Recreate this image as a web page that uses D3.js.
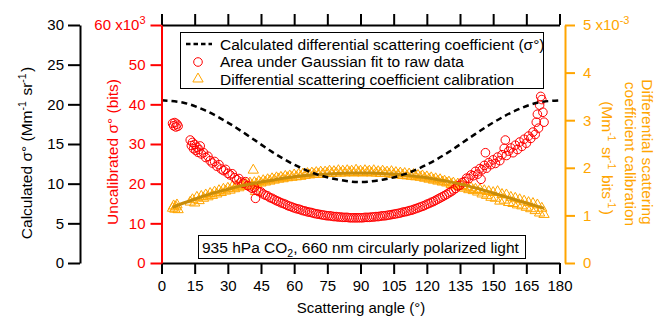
<!DOCTYPE html>
<html>
<head>
<meta charset="utf-8">
<script src="https://cdnjs.cloudflare.com/ajax/libs/d3/7.8.5/d3.min.js"></script>
<style>
    body { margin: 0; background: #fff; }
    svg text { font-family: "Liberation Sans", Arial, sans-serif; }
</style>
</head>
<body>
<svg id="chart" width="658" height="320"></svg>
<script>
// tick values
var angleTicks = [0, 15, 30, 45, 60, 75, 90, 105, 120, 135, 150, 165, 180];
var sigmaTicks = [0, 5, 10, 15, 20, 25, 30];
var bitsTicks = [0, 10, 20, 30, 40, 50, 60];
var calibTicks = [0, 1, 2, 3, 4, 5];

// calculated sigma (Mm-1 sr-1) vs angle
var calcSigma = [
    [0, 20.5], [10, 20.2], [20, 19.2], [30, 17.7], [40, 15.9], [50, 14.0], [60, 12.4],
    [70, 11.2], [80, 10.5], [90, 10.2], [100, 10.5], [110, 11.2], [120, 12.4], [130, 14.0],
    [140, 15.9], [150, 17.7], [160, 19.2], [170, 20.2], [180, 20.5]
];

// area under gaussian fit (x10^3 bits)
var rawArea = [
    [5, 35.2], [5.5, 34.6], [6, 35.4], [6.5, 34.3], [7, 35.0], [7.5, 34.5],
    [13, 31.0], [13.5, 29.6], [14, 30.4], [14.5, 28.8], [15, 29.9], [15.5, 28.4], [16, 29.2],
    [16.5, 27.9], [17, 28.6], [17.5, 29.5], [18, 27.5], [19, 27.8], [20, 26.6], [21, 26.9],
    [22, 25.8], [23, 25.2], [24, 25.6], [25, 24.4], [26, 24.8], [27, 23.7], [28, 23.3],
    [29, 23.6], [30, 22.6], [31, 22.2], [32, 22.5], [33, 21.5], [34, 21.0], [35, 21.3],
    [36, 20.4], [37, 20.1], [38, 20.5], [39, 19.5], [40, 19.2], [41, 18.8], [42, 19.1],
    [42.5, 16.3], [43, 18.3], [44, 18.0], [45, 17.9], [46, 17.4], [47, 17.1], [48, 16.9],
    [49, 16.5], [50, 16.3], [51, 16.0], [52, 15.7], [53, 15.5], [54, 15.2], [55, 15.0],
    [56, 14.8], [57, 14.5], [58, 14.3], [59, 14.1], [60, 13.9], [61, 13.7], [62, 13.6],
    [63, 13.4], [64, 13.2], [65, 13.1], [66, 12.9], [67, 12.8], [68, 12.7], [69, 12.5],
    [70, 12.4], [71, 12.3], [72, 12.2], [73, 12.1], [74, 12.0], [75, 11.9], [76, 11.9],
    [77, 11.8], [78, 11.7], [79, 11.7], [80, 11.6], [81, 11.6], [82, 11.5], [83, 11.5],
    [84, 11.5], [85, 11.4], [86, 11.4], [87, 11.4], [88, 11.4], [89, 11.4], [90, 11.4],
    [91, 11.4], [92, 11.5], [93, 11.5], [94, 11.5], [95, 11.6], [96, 11.6], [97, 11.7],
    [98, 11.7], [99, 11.8], [100, 11.9], [101, 11.9], [102, 12.0], [103, 12.1], [104, 12.2],
    [105, 12.3], [106, 12.4], [107, 12.5], [108, 12.6], [109, 12.8], [110, 12.9], [111, 13.0],
    [112, 13.2], [113, 13.3], [114, 13.5], [115, 13.7], [116, 13.9], [117, 14.1], [118, 14.3],
    [119, 14.5], [120, 14.8], [121, 15.0], [122, 15.3], [123, 15.5], [124, 15.8], [125, 16.1],
    [126, 16.4], [127, 16.7], [128, 17.0], [129, 17.3], [130, 17.7], [131, 18.0], [132, 18.4],
    [133, 18.8], [134, 19.4], [135, 19.6], [136, 20.3], [137, 20.5], [138, 21.4], [139, 21.3],
    [140, 22.2], [141, 22.0], [142, 23.1], [143, 22.4], [144, 23.8], [144.5, 21.1], [145, 23.5],
    [146, 24.6], [146.5, 27.8], [147, 23.9], [148, 25.3], [149, 24.8], [150, 26.0], [151, 25.1],
    [152, 26.7], [153, 25.8], [154, 27.3], [155, 28.9], [155.5, 31.0], [156, 27.1], [157, 28.2],
    [158, 29.0], [159, 27.8], [160, 29.7], [161, 28.6], [162, 30.5], [163, 29.4], [164, 31.2],
    [165, 30.2], [166, 32.0], [167, 31.4], [168, 33.0], [169, 32.4], [169.5, 35.5], [170, 37.5],
    [170.5, 34.0], [171, 39.8], [171.5, 42.0], [172, 41.2], [172.5, 38.0], [173, 35.5]
];

// calibration (x10^-3 Mm-1 sr-1 bits-1)
var calib = [
    [5, 1.15], [5.5, 1.20], [6, 1.13], [6.5, 1.18], [7, 1.22], [7.5, 1.12],
    [13, 1.28], [14, 1.33], [15, 1.26], [16, 1.38], [17, 1.31], [18, 1.40], [19, 1.36],
    [20, 1.43], [21, 1.39], [22, 1.46], [23, 1.42], [24, 1.49], [25, 1.45], [26, 1.52],
    [27, 1.48], [28, 1.55], [29, 1.51], [30, 1.57], [31, 1.53], [32, 1.60], [33, 1.56],
    [34, 1.62], [35, 1.58], [36, 1.64], [37, 1.61], [38, 1.66], [39, 1.62], [40, 1.68],
    [41, 1.63], [41.5, 1.95], [42, 1.69], [42.5, 1.50], [43, 1.66], [44, 1.71], [45, 1.68],
    [46, 1.73], [47, 1.70], [48, 1.75], [49, 1.72], [50, 1.77], [51, 1.74], [52, 1.79],
    [53, 1.76], [54, 1.80], [55, 1.77], [56, 1.82], [57, 1.79], [58, 1.83], [59, 1.80],
    [60, 1.85], [61, 1.81], [62, 1.86], [63, 1.82], [64, 1.87], [65, 1.84], [66, 1.88],
    [67, 1.85], [68, 1.89], [69, 1.86], [70, 1.90], [71, 1.86], [72, 1.91], [73, 1.87],
    [74, 1.91], [75, 1.88], [76, 1.93], [77, 1.88], [78, 1.92], [79, 1.89], [80, 1.94],
    [81, 1.89], [82, 1.93], [83, 1.89], [84, 1.94], [85, 1.90], [86, 1.93], [87, 1.89],
    [88, 1.95], [89, 1.90], [90, 1.93], [91, 1.89], [92, 1.94], [93, 1.90], [94, 1.93],
    [95, 1.89], [96, 1.94], [97, 1.89], [98, 1.92], [99, 1.88], [100, 1.93], [101, 1.88],
    [102, 1.91], [103, 1.87], [104, 1.92], [105, 1.86], [106, 1.90], [107, 1.85], [108, 1.89],
    [109, 1.84], [110, 1.88], [111, 1.83], [112, 1.87], [113, 1.82], [114, 1.86], [115, 1.81],
    [116, 1.84], [117, 1.80], [118, 1.83], [119, 1.78], [120, 1.81], [121, 1.76], [122, 1.79],
    [123, 1.74], [124, 1.77], [125, 1.72], [126, 1.75], [127, 1.70], [128, 1.72], [129, 1.68],
    [130, 1.70], [131, 1.65], [132, 1.68], [133, 1.62], [134, 1.66], [135, 1.60], [136, 1.63],
    [137, 1.57], [138, 1.60], [139, 1.54], [140, 1.58], [141, 1.52], [142, 1.55], [143, 1.49],
    [144, 1.54], [145, 1.45], [146, 1.52], [147, 1.42], [148, 1.50], [149, 1.38], [150, 1.48],
    [151, 1.36], [152, 1.50], [153, 1.30], [154, 1.44], [155, 1.32], [156, 1.43], [157, 1.27],
    [158, 1.38], [159, 1.25], [160, 1.36], [161, 1.22], [162, 1.33], [163, 1.20], [164, 1.30],
    [165, 1.17], [166, 1.27], [167, 1.14], [168, 1.25], [169, 1.10], [170, 1.22], [171, 1.05],
    [172, 1.15], [173, 1.02]
];

// polynomial fit through the calibration points
var calibFit = [
    [5, 1.17], [10, 1.26], [15, 1.34], [20, 1.42], [25, 1.49], [30, 1.55], [35, 1.61],
    [40, 1.66], [45, 1.70], [50, 1.74], [55, 1.78], [60, 1.81], [65, 1.84], [70, 1.86],
    [75, 1.87], [80, 1.88], [85, 1.89], [90, 1.89], [95, 1.89], [100, 1.88], [105, 1.87],
    [110, 1.85], [115, 1.82], [120, 1.79], [125, 1.75], [130, 1.71], [135, 1.66], [140, 1.60],
    [145, 1.54], [150, 1.47], [155, 1.40], [160, 1.33], [165, 1.26], [170, 1.19], [173, 1.15]
];

var RED = "#ff0000", ORANGE = "#ffa500", FIT = "#c88c0a";
var TICK_FONT = 15, TEXT_FONT = 15.5;

var svg = d3.select("#chart");

// scales
var x = d3.scaleLinear().domain([0, 180]).range([161.5, 559.5]);
var ySigma = d3.scaleLinear().domain([0, 30]).range([263, 25]);
var yBits = d3.scaleLinear().domain([0, 60]).range([263, 25]);
var yCalib = d3.scaleLinear().domain([0, 5]).range([263, 25]);

function styleAxis(g, color) {
    g.attr("font-family", "Liberation Sans, Arial, sans-serif").attr("font-size", TICK_FONT);
    g.selectAll("path, line").attr("stroke", color).attr("stroke-width", 2);
    g.selectAll("text").attr("fill", color);
}

// superscript helper
function sup(t, s) {
    t.append("tspan").attr("dy", -6).attr("font-size", 10.5).text(s);
    t.append("tspan").attr("dy", 6).text("\u200a");
}

// ----- data marks -----
var tri = d3.symbol().type(d3.symbolTriangle).size(46);
svg.append("g").selectAll("path").data(calib).enter().append("path")
    .attr("d", tri)
    .attr("transform", function (d) { return "translate(" + x(d[0]) + "," + yCalib(d[1]) + ")"; })
    .attr("fill", "none")
    .attr("stroke", ORANGE)
    .attr("stroke-width", 1);

svg.append("g").selectAll("circle").data(rawArea).enter().append("circle")
    .attr("cx", function (d) { return x(d[0]); })
    .attr("cy", function (d) { return yBits(d[1]); })
    .attr("r", 4.3)
    .attr("fill", "none")
    .attr("stroke", RED)
    .attr("stroke-width", 1);

svg.append("path").datum(calibFit)
    .attr("d", d3.line().curve(d3.curveMonotoneX)
        .x(function (d) { return x(d[0]); })
        .y(function (d) { return yCalib(d[1]); }))
    .attr("fill", "none")
    .attr("stroke", FIT)
    .attr("stroke-width", 3);

svg.append("path").datum(calcSigma)
    .attr("d", d3.line().curve(d3.curveMonotoneX)
        .x(function (d) { return x(d[0]); })
        .y(function (d) { return ySigma(d[1]); }))
    .attr("fill", "none")
    .attr("stroke", "#000")
    .attr("stroke-width", 2.5)
    .attr("stroke-dasharray", "6,4");

// ----- axes -----
var gx = svg.append("g").attr("transform", "translate(0,263)")
    .call(d3.axisBottom(x).tickValues(angleTicks).tickSize(11).tickSizeOuter(0).tickPadding(6));
styleAxis(gx, "#000");

var gTop = svg.append("g").attr("transform", "translate(0,25)")
    .call(d3.axisTop(x).tickValues(angleTicks).tickSize(11).tickSizeOuter(0).tickFormat(""));
styleAxis(gTop, "#000");

var gSigma = svg.append("g").attr("transform", "translate(80,0)")
    .call(d3.axisLeft(ySigma).tickValues(sigmaTicks).tickSize(12).tickSizeOuter(0).tickPadding(4));
styleAxis(gSigma, "#000");

var gBits = svg.append("g").attr("transform", "translate(161.5,0)")
    .call(d3.axisLeft(yBits).tickValues(bitsTicks).tickSize(11).tickSizeOuter(0).tickPadding(5));
styleAxis(gBits, RED);
gBits.selectAll(".tick text").filter(function (d) { return d === 60; })
    .text("60 x10").call(function (t) {
        t.append("tspan").attr("dy", -6).attr("font-size", 11).text("3");
    });

var gCalib = svg.append("g").attr("transform", "translate(565,0)")
    .call(d3.axisRight(yCalib).tickValues(calibTicks).tickSize(10).tickSizeOuter(0)
        .tickPadding(8).tickFormat(d3.format("d")));
styleAxis(gCalib, ORANGE);
gCalib.selectAll(".tick text").filter(function (d) { return d === 5; })
    .text("5 x10").call(function (t) {
        t.append("tspan").attr("dy", -6).attr("font-size", 11).text("-3");
    });

// ----- axis titles -----
svg.append("text").attr("x", 361).attr("y", 313).attr("text-anchor", "middle")
    .attr("font-size", TICK_FONT).text("Scattering angle (\u00b0)");

var tSigma = svg.append("text").attr("transform", "translate(32,153) rotate(-90)")
    .attr("text-anchor", "middle").attr("font-size", TEXT_FONT);
tSigma.append("tspan").text("Calculated \u03c3\u00b0 (Mm");
sup(tSigma, "-1");
tSigma.append("tspan").text(" sr");
sup(tSigma, "-1");
tSigma.append("tspan").text(")");

svg.append("text").attr("transform", "translate(118,152) rotate(-90)")
    .attr("text-anchor", "middle").attr("font-size", TEXT_FONT).attr("fill", RED)
    .text("Uncalibrated \u03c3\u00b0 (bits)");

svg.append("text").attr("transform", "translate(642,152) rotate(90)")
    .attr("text-anchor", "middle").attr("font-size", TEXT_FONT).attr("fill", ORANGE)
    .text("Differential scattering");
svg.append("text").attr("transform", "translate(625,154) rotate(90)")
    .attr("text-anchor", "middle").attr("font-size", TEXT_FONT).attr("fill", ORANGE)
    .text("coefficient calibration");
var tCal = svg.append("text").attr("transform", "translate(602,158) rotate(90)")
    .attr("text-anchor", "middle").attr("font-size", TEXT_FONT).attr("fill", ORANGE);
tCal.append("tspan").text("(Mm");
sup(tCal, "-1");
tCal.append("tspan").text(" sr");
sup(tCal, "-1");
tCal.append("tspan").text(" bits");
sup(tCal, "-1");
tCal.append("tspan").text(")");

// ----- legend -----
var legend = svg.append("g");
legend.append("rect").attr("x", 180.5).attr("y", 32.5).attr("width", 363).attr("height", 56)
    .attr("fill", "#fff").attr("stroke", "#000").attr("stroke-width", 1);
legend.append("line").attr("x1", 186).attr("x2", 212).attr("y1", 44).attr("y2", 44)
    .attr("stroke", "#000").attr("stroke-width", 2.5).attr("stroke-dasharray", "4.5,3");
legend.append("circle").attr("cx", 198).attr("cy", 62).attr("r", 4.3)
    .attr("fill", "none").attr("stroke", RED);
legend.append("path").attr("d", tri).attr("transform", "translate(198,79)")
    .attr("fill", "none").attr("stroke", ORANGE);
var legendText = ["Calculated differential scattering coefficient (\u03c3\u00b0)",
    "Area under Gaussian fit to raw data",
    "Differential scattering coefficient calibration"];
legend.selectAll("text.lg").data(legendText).enter().append("text")
    .attr("class", "lg")
    .attr("x", 220)
    .attr("y", function (d, i) { return 49.5 + i * 17.5; })
    .attr("font-size", TEXT_FONT)
    .text(function (d) { return d; });

// ----- annotation -----
svg.append("rect").attr("x", 198.5).attr("y", 235.5).attr("width", 327).attr("height", 23)
    .attr("fill", "#fff").attr("stroke", "#000").attr("stroke-width", 1);
var note = svg.append("text").attr("x", 202).attr("y", 252.5).attr("font-size", TEXT_FONT);
note.append("tspan").text("935 hPa CO");
note.append("tspan").attr("dy", 4).attr("font-size", 10.5).text("2");
note.append("tspan").attr("dy", -4).text(", 660 nm circularly polarized light");
</script>
</body>
</html>
